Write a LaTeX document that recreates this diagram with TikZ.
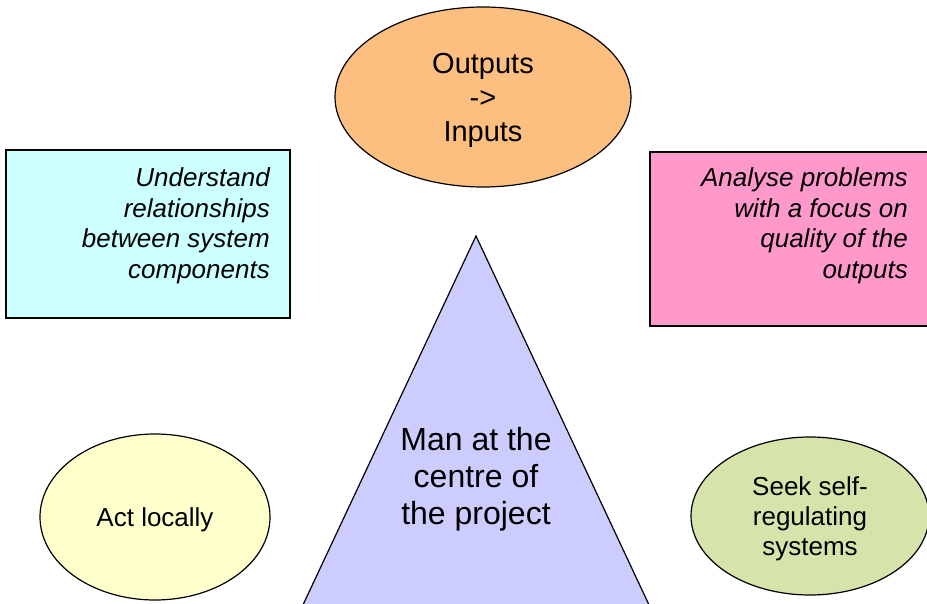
\documentclass[tikz,border=0pt]{standalone}
\usepackage{fontspec}
\setmainfont{Liberation Sans}
\usetikzlibrary{shapes.geometric}

\definecolor{loopfill}{RGB}{253,191,128}
\definecolor{relfill}{RGB}{204,255,255}
\definecolor{qualfill}{RGB}{255,153,204}
\definecolor{manfill}{RGB}{204,204,255}
\definecolor{localfill}{RGB}{255,255,204}
\definecolor{selffill}{RGB}{214,228,172}

\tikzset{
  outline/.style={draw=black, line width=1.2pt},
  oval/.style={outline, ellipse, inner sep=0pt},
  panel/.style={outline, rectangle, inner sep=0pt},
  label/.style={inner sep=0pt, align=center},
  paneltext/.style={inner sep=0pt, align=right, font=\fontsize{26}{30.5}\selectfont\itshape},
}

\begin{document}
\begin{tikzpicture}[x=1pt, y=-1pt]
  \useasboundingbox (0,0) rectangle (927,604);
  \clip (0,0) rectangle (927,604);

  % feedback loop at the top
  \node[oval, fill=loopfill, minimum width=296pt, minimum height=180pt] (loop) at (483,97) {};
  \node[label, font=\fontsize{29}{34}\selectfont] (looptext) at (483,100)
        {Outputs\\->\\Inputs};

  % left panel
  \node[panel, fill=relfill, minimum width=284pt, minimum height=168pt] (rel) at (148,234) {};
  \node[paneltext, anchor=east] (reltext) at (270,226)
        {Understand\\relationships\\between system\\components};

  % right panel
  \node[panel, fill=qualfill, minimum width=286pt, minimum height=174pt] (qual) at (793,239) {};
  \node[paneltext, anchor=east] (qualtext) at (908,226)
        {Analyse problems\\with a focus on\\quality of the\\outputs};

  % central triangle
  \coordinate (apex) at (476,236);
  \coordinate (baseL) at (302,607);
  \coordinate (baseR) at (650,607);
  \filldraw[outline, fill=manfill] (apex) -- (baseL) -- (baseR) -- cycle;
  \node[label, font=\fontsize{32}{37}\selectfont] (man) at (476,479)
        {Man at the\\centre of\\the project};

  % bottom ovals
  \node[oval, fill=localfill, minimum width=230pt, minimum height=166pt] (local) at (155,517) {};
  \node[label, font=\fontsize{26}{30}\selectfont] (localtext) at (155,520) {Act locally};
  \node[oval, fill=selffill, minimum width=238pt, minimum height=158pt] (self) at (810,516) {};
  \node[label, font=\fontsize{26}{30}\selectfont] (selftext) at (810,519)
        {Seek self-\\regulating\\systems};
\end{tikzpicture}
\end{document}
